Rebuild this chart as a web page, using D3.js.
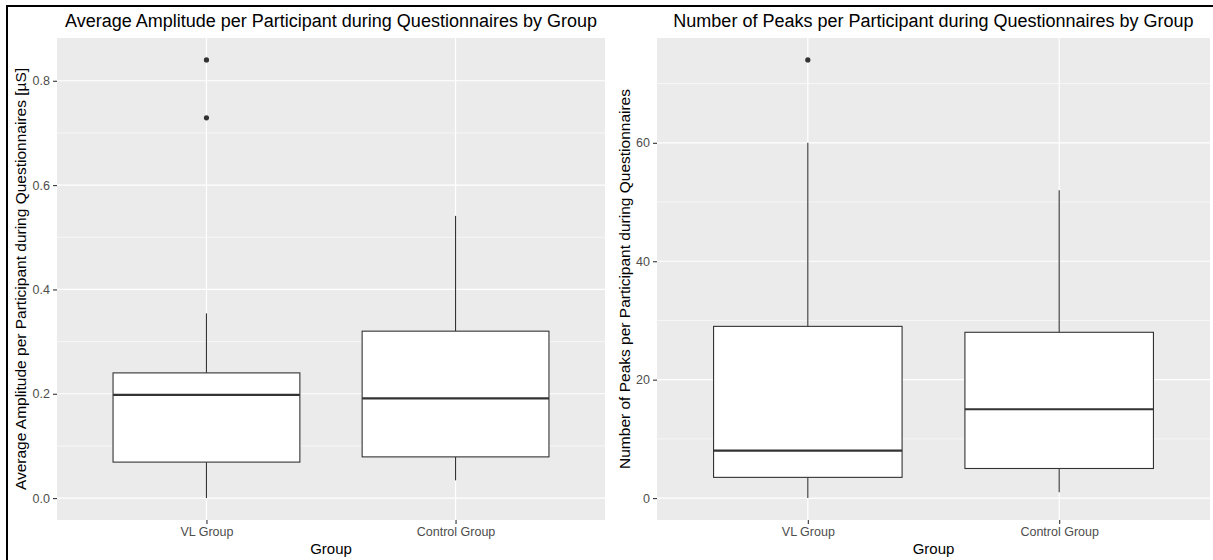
<!DOCTYPE html>
<html>
<head>
<meta charset="utf-8">
<script src="https://cdn.jsdelivr.net/npm/d3@7"></script>
<style>
  html, body { margin: 0; padding: 0; background: #fff; }
  svg { display: block; }
  svg text { font-family: "Liberation Sans", Arial, sans-serif; }
</style>
</head>
<body>
<div id="chart"></div>
<script>
// groups on the x axis
var groups = ["VL Group", "Control Group"];

// average amplitude box stats [µS]
var ampQ1 = [0.069, 0.079];
var ampMedian = [0.198, 0.191];
var ampQ3 = [0.240, 0.320];
var ampLow = [0.0, 0.034];
var ampHigh = [0.354, 0.541];
var ampOutliers = [[0.84, 0.729], []];
var ampTicks = [0, 0.2, 0.4, 0.6, 0.8];
var ampMinor = [0.1, 0.3, 0.5, 0.7];

// number of peaks box stats
var peakQ1 = [3.5, 5];
var peakMedian = [8, 15];
var peakQ3 = [29, 28];
var peakLow = [0, 1];
var peakHigh = [60, 52];
var peakOutliers = [[74], []];
var peakTicks = [0, 20, 40, 60];
var peakMinor = [10, 30, 50, 70];

var width = 1213, height = 560;
var font = "'Liberation Sans', Arial, sans-serif";

var svg = d3.select("#chart").append("svg")
  .attr("width", width)
  .attr("height", height);

svg.append("rect").attr("width", width).attr("height", height).attr("fill", "#fff");

// border on top and left, like the cropped screenshot
svg.append("line").attr("x1", 6).attr("x2", width).attr("y1", 6).attr("y2", 6)
  .attr("stroke", "#000").attr("stroke-width", 2);
svg.append("line").attr("x1", 7).attr("x2", 7).attr("y1", 5).attr("y2", height)
  .attr("stroke", "#000").attr("stroke-width", 2);

function drawPanel(opt) {
  var g = svg.append("g");
  var x0 = opt.left, x1 = opt.right, y0 = 38, y1 = 520;

  var all = [];
  for (var i = 0; i < groups.length; i++) {
    all.push(opt.low[i], opt.high[i]);
    all = all.concat(opt.outliers[i]);
  }
  var lo = d3.min(all), hi = d3.max(all), pad = (hi - lo) * 0.05;

  var y = d3.scaleLinear().domain([lo - pad, hi + pad]).range([y1, y0]);
  var x = d3.scalePoint().domain(groups).range([x0, x1]).padding(0.6);
  var boxW = x.step() * 0.75;

  // panel background
  g.append("rect").attr("x", x0).attr("y", y0)
    .attr("width", x1 - x0).attr("height", y1 - y0).attr("fill", "#EBEBEB");

  // minor grid
  g.selectAll(".minor").data(opt.minor.filter(function(d){ return y(d) > y0 && y(d) < y1; }))
    .enter().append("line")
      .attr("x1", x0).attr("x2", x1)
      .attr("y1", function(d){ return y(d); }).attr("y2", function(d){ return y(d); })
      .attr("stroke", "#fff").attr("stroke-width", 0.6);

  // major grid
  g.selectAll(".major").data(opt.ticks)
    .enter().append("line")
      .attr("x1", x0).attr("x2", x1)
      .attr("y1", function(d){ return y(d); }).attr("y2", function(d){ return y(d); })
      .attr("stroke", "#fff").attr("stroke-width", 1.2);

  g.selectAll(".vgrid").data(groups)
    .enter().append("line")
      .attr("x1", function(d){ return x(d); }).attr("x2", function(d){ return x(d); })
      .attr("y1", y0).attr("y2", y1)
      .attr("stroke", "#fff").attr("stroke-width", 1.2);

  // y axis
  var yAxis = d3.axisLeft(y).tickValues(opt.ticks).tickSize(4).tickPadding(3)
    .tickFormat(opt.fmt);
  var ya = g.append("g").attr("transform", "translate(" + x0 + ",0)").call(yAxis)
    .attr("font-family", null).attr("font-size", null);
  ya.select(".domain").remove();
  ya.selectAll(".tick line").attr("stroke", "#333").attr("stroke-width", 1.1);
  ya.selectAll(".tick text").attr("fill", "#4D4D4D").style("font-size", "12.5px")
    .style("font-family", font);

  // x axis
  var xAxis = d3.axisBottom(x).tickSize(4).tickPadding(3);
  var xa = g.append("g").attr("transform", "translate(0," + y1 + ")").call(xAxis)
    .attr("font-family", null).attr("font-size", null);
  xa.select(".domain").remove();
  xa.selectAll(".tick line").attr("stroke", "#333").attr("stroke-width", 1.1);
  xa.selectAll(".tick text").attr("fill", "#4D4D4D").style("font-size", "12.5px")
    .style("font-family", font);

  // boxes
  var box = g.selectAll(".box").data(groups).enter().append("g");

  box.append("line")
    .attr("x1", function(d){ return x(d); }).attr("x2", function(d){ return x(d); })
    .attr("y1", function(d, i){ return y(opt.q3[i]); })
    .attr("y2", function(d, i){ return y(opt.high[i]); })
    .attr("stroke", "#333").attr("stroke-width", 1.1);
  box.append("line")
    .attr("x1", function(d){ return x(d); }).attr("x2", function(d){ return x(d); })
    .attr("y1", function(d, i){ return y(opt.q1[i]); })
    .attr("y2", function(d, i){ return y(opt.low[i]); })
    .attr("stroke", "#333").attr("stroke-width", 1.1);

  box.append("rect")
    .attr("x", function(d){ return x(d) - boxW / 2; })
    .attr("width", boxW)
    .attr("y", function(d, i){ return y(opt.q3[i]); })
    .attr("height", function(d, i){ return y(opt.q1[i]) - y(opt.q3[i]); })
    .attr("fill", "#fff").attr("stroke", "#333").attr("stroke-width", 1.1);

  box.append("line")
    .attr("x1", function(d){ return x(d) - boxW / 2; })
    .attr("x2", function(d){ return x(d) + boxW / 2; })
    .attr("y1", function(d, i){ return y(opt.median[i]); })
    .attr("y2", function(d, i){ return y(opt.median[i]); })
    .attr("stroke", "#333").attr("stroke-width", 2.2);

  box.each(function(d, i) {
    d3.select(this).selectAll("circle").data(opt.outliers[i]).enter().append("circle")
      .attr("cx", x(d)).attr("cy", function(v){ return y(v); })
      .attr("r", 2.6).attr("fill", "#333");
  });

  // titles
  g.append("text").attr("x", (x0 + x1) / 2).attr("y", 27)
    .attr("text-anchor", "middle").style("font-size", "18px").style("font-family", font)
    .attr("fill", "#000")
    .text(opt.title);
  g.append("text").attr("x", (x0 + x1) / 2).attr("y", 554)
    .attr("text-anchor", "middle").style("font-size", "15px").style("font-family", font)
    .attr("fill", "#000")
    .text("Group");
  g.append("text")
    .attr("transform", "translate(" + opt.ytitleX + "," + ((y0 + y1) / 2) + ") rotate(-90)")
    .attr("text-anchor", "middle").style("font-size", "15.5px").style("font-family", font)
    .attr("fill", "#000")
    .text(opt.ytitle);
}

drawPanel({
  left: 57, right: 605,
  q1: ampQ1, median: ampMedian, q3: ampQ3, low: ampLow, high: ampHigh, outliers: ampOutliers,
  ticks: ampTicks, minor: ampMinor, fmt: d3.format(".1f"),
  title: "Average Amplitude per Participant during Questionnaires by Group",
  ytitle: "Average Amplitude per Participant during Questionnaires [µS]",
  ytitleX: 26
});

drawPanel({
  left: 657, right: 1210,
  q1: peakQ1, median: peakMedian, q3: peakQ3, low: peakLow, high: peakHigh, outliers: peakOutliers,
  ticks: peakTicks, minor: peakMinor, fmt: d3.format("d"),
  title: "Number of Peaks per Participant during Questionnaires by Group",
  ytitle: "Number of Peaks per Participant during Questionnaires",
  ytitleX: 630
});
</script>
</body>
</html>
